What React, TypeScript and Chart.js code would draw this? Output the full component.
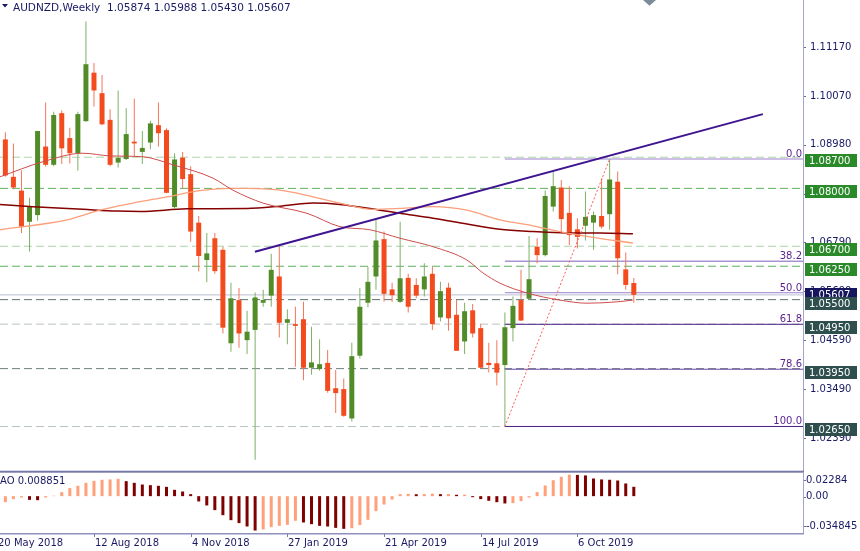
import React, { useEffect, useRef } from "react";
import { Chart, registerables } from "chart.js";
Chart.register(...registerables);

// ---------- DATA ----------
const symbolTitle = "AUDNZD,Weekly";
const lastOHLC = ["1.05874", "1.05988", "1.05430", "1.05607"];

const opens = [
  1.0868, 1.091, 1.0826, 1.0795, 1.0725, 1.074, 1.0894, 1.0853, 1.0969, 1.0913,
  1.0879, 1.0951, 1.106, 1.1014, 1.0954, 1.0858, 1.0866, 1.0905, 1.0882, 1.0903,
  1.0942, 1.0931, 1.0758, 1.0869, 1.0832, 1.0723, 1.0639, 1.0688, 1.0662, 1.0452,
  1.0549, 1.0459, 1.0482, 1.0543, 1.0559, 1.0602, 1.0498, 1.0495, 1.0506, 1.0397,
  1.0394, 1.0408, 1.0351, 1.0349, 1.0283, 1.0424, 1.0543, 1.0602, 1.0686, 1.0573,
  1.0545, 1.0599, 1.0583, 1.0573, 1.0608, 1.051, 1.0577, 1.0516, 1.0456, 1.0526,
  1.0486, 1.0408, 1.0407, 1.0403, 1.0486, 1.0549, 1.0552, 1.0669, 1.065, 1.0759,
  1.0802, 1.0745, 1.0708, 1.0716, 1.0723, 1.0738, 1.0742, 1.0815, 1.0618, 1.05874,
];
const highs = [
  1.0915, 1.0926, 1.0901, 1.0841, 1.0779, 1.0929, 1.0993, 1.0972, 1.0975, 1.0936,
  1.0972, 1.1175, 1.1082, 1.1055, 1.0978, 1.102, 1.098, 1.1002, 1.0929, 1.0952,
  1.0993, 1.0935, 1.0879, 1.0882, 1.085, 1.0738, 1.07, 1.07, 1.0669, 1.0588,
  1.0576, 1.0525, 1.0566, 1.0572, 1.0653, 1.0671, 1.0528, 1.0534, 1.0545, 1.0489,
  1.0461, 1.0437, 1.0392, 1.0373, 1.0453, 1.0576, 1.0624, 1.0729, 1.0703, 1.0588,
  1.0725, 1.0608, 1.0598, 1.0632, 1.0624, 1.059, 1.0588, 1.0549, 1.0543, 1.054,
  1.0495, 1.0453, 1.0459, 1.0521, 1.0557, 1.0617, 1.0693, 1.0688, 1.0795, 1.0838,
  1.0819, 1.0805, 1.0733, 1.0793, 1.0748, 1.0823, 1.0866, 1.0838, 1.0656, 1.05988,
];
const lows = [
  1.086, 1.0826, 1.0798, 1.07, 1.0658, 1.0727, 1.0849, 1.085, 1.0855, 1.0856,
  1.084, 1.095, 1.0984, 1.0942, 1.085, 1.0847, 1.0864, 1.0871, 1.0855, 1.0888,
  1.0894, 1.0789, 1.0755, 1.0799, 1.068, 1.0613, 1.0589, 1.0608, 1.0474, 1.0433,
  1.0442, 1.0428, 1.019, 1.0534, 1.0534, 1.0465, 1.045, 1.0399, 1.0369, 1.0381,
  1.039, 1.0341, 1.0295, 1.0287, 1.0276, 1.0418, 1.0533, 1.0572, 1.0545, 1.0545,
  1.0543, 1.0521, 1.0553, 1.0557, 1.0482, 1.0501, 1.048, 1.0435, 1.0428, 1.0465,
  1.0396, 1.0386, 1.0357, 1.0265, 1.0456, 1.0502, 1.0549, 1.0632, 1.0647, 1.0748,
  1.0699, 1.0673, 1.0665, 1.0683, 1.0662, 1.071, 1.0707, 1.0607, 1.0572, 1.0543,
];
const closes = [
  1.0907, 1.0829, 1.0802, 1.0714, 1.076, 1.0929, 1.0853, 1.0965, 1.089, 1.0879,
  1.0967, 1.1079, 1.102, 1.0944, 1.0853, 1.0869, 1.0922, 1.0901, 1.0891, 1.0946,
  1.0924, 1.079, 1.0865, 1.0821, 1.0703, 1.0648, 1.0654, 1.0614, 1.0487, 1.0553,
  1.0474, 1.0478, 1.0555, 1.0549, 1.0617, 1.0498, 1.0506, 1.0491, 1.0397, 1.0409,
  1.0405, 1.0345, 1.034, 1.0289, 1.0423, 1.0534, 1.059, 1.0683, 1.0563, 1.056,
  1.0598, 1.0534, 1.0559, 1.0602, 1.0495, 1.0569, 1.0508, 1.0435, 1.0524, 1.0474,
  1.0397, 1.0403, 1.0386, 1.0488, 1.0536, 1.0503, 1.0596, 1.065, 1.0783, 1.0805,
  1.0731, 1.0695, 1.0691, 1.0736, 1.074, 1.0714, 1.082, 1.0643, 1.0583, 1.05607,
];

const aoValues = [
  -0.0065, -0.0057, -0.0028, -0.0013, -0.0035, -0.0038, -0.0013, 0.0004, 0.0038, 0.0076,
  0.0098, 0.0126, 0.0145, 0.0155, 0.0158, 0.0164, 0.0142, 0.0126, 0.011, 0.0104,
  0.0098, 0.0088, 0.006, 0.0044, 0.0019, -0.005, -0.0088, -0.0132, -0.018, -0.0227,
  -0.0255, -0.0287, -0.0325, -0.0315, -0.0293, -0.0281, -0.0271, -0.0233, -0.0249, -0.0265,
  -0.0281, -0.0287, -0.03, -0.0309, -0.0303, -0.0274, -0.0224, -0.0142, -0.0079, -0.0032,
  0.0019, 0.0022, 0.0018, 0.002, 0.0024, 0.0019, 0.002, 0.0013, 0.0014, -0.001,
  -0.0028, -0.0044, -0.0057, -0.0069, -0.0066, -0.0047, -0.0013, 0.0038, 0.0101, 0.0151,
  0.0183, 0.0203, 0.0201, 0.0196, 0.0167, 0.0158, 0.0155, 0.0148, 0.012, 0.008851,
];
const aoLabel = "AO 0.008851";

const xTickIndex = [0, 12, 24, 36, 48, 60, 72];
const xTickLabels = ["20 May 2018", "12 Aug 2018", "4 Nov 2018", "27 Jan 2019", "21 Apr 2019", "14 Jul 2019", "6 Oct 2019"];
const priceTicks = [1.1117, 1.1007, 1.0898, 1.0788, 1.0679, 1.0569, 1.0459, 1.0349, 1.0239];
const aoTicks = [0.02284, 0, -0.034845];
const aoTickLabels = ["0.02284", "0.00", "-0.034845"];

const maFastIdx = [0.34, 5.67, 10.64, 13.99, 18.08, 21.8, 26.77, 29.25, 32.97, 38.43, 42.53, 46.25, 49.98, 54.07, 58.29, 60.28, 62.39, 65.74, 69.83, 73.18, 76.9, 78.89];
const maFastVal = [1.0826, 1.086, 1.0879, 1.0873, 1.0871, 1.0853, 1.0823, 1.0796, 1.0767, 1.0744, 1.0714, 1.0707, 1.0688, 1.0669, 1.0639, 1.061, 1.0587, 1.0565, 1.0549, 1.0542, 1.0545, 1.0549];
const maMidIdx = [0.34, 8.65, 12.74, 16.84, 21.06, 25.15, 29.25, 30.99, 35.08, 39.18, 42.53, 46.62, 49.98, 54.07, 58.29, 62.39, 66.48, 69.83, 73.93, 78.89];
const maMidVal = [1.0707, 1.0729, 1.0751, 1.0767, 1.0781, 1.0795, 1.08, 1.08, 1.0796, 1.0781, 1.0767, 1.0753, 1.0755, 1.0759, 1.0751, 1.0729, 1.0716, 1.0703, 1.069, 1.0677];
const maSlowIdx = [0.34, 4.43, 10.64, 14.85, 17.71, 23.54, 30.99, 35.08, 39.18, 42.53, 47.49, 49.98, 54.07, 58.29, 62.39, 66.48, 70.7, 74.8, 78.89];
const maSlowVal = [1.0764, 1.0759, 1.0753, 1.0749, 1.0748, 1.0754, 1.0755, 1.076, 1.0767, 1.0764, 1.0751, 1.0744, 1.0733, 1.072, 1.0708, 1.0703, 1.07, 1.07, 1.0698];

const levelPrices = [1.087, 1.08, 1.067, 1.0625, 1.055, 1.0495, 1.0395, 1.0265];
const levelColors = ["#a9d6a9", "#5fb05f", "#a9d6a9", "#5fb05f", "#5f7272", "#b9c3c3", "#6f8282", "#b9c3c3"];
const currentPrice = 1.05607;

const boxPrices = [1.087, 1.08, 1.067, 1.0625, 1.055, 1.0495, 1.0395, 1.0265];
const boxColors = ["#2a8a2a", "#2a8a2a", "#2a8a2a", "#2a8a2a", "#2f4f4f", "#2f4f4f", "#2f4f4f", "#2f4f4f"];

const fibRatios = [0, 38.2, 50, 61.8, 78.6, 100];
const fibLabels = ["0.0", "38.2", "50.0", "61.8", "78.6", "100.0"];
const fibColors = ["#9a7fcc", "#7d5fb8", "#9a7fcc", "#4c1f86", "#6b4aa6", "#4c1f86"];
const fibHigh = 1.0866;
const fibLow = 1.0265;
const fibFromIdx = 63;
const fibToIdx = 76;

const trendIdx = [31.98, 95.02];
const trendVal = [1.06577, 1.09669];

// ---------- STYLE / LAYOUT ----------
const X_MIN = 0.335;
const X_MAX = 100;
const P_MIN = 1.01627;
const P_MAX = 1.12233;
const AO_MIN = -0.034845;
const AO_MAX = 0.02284;
const FONT = '10px "DejaVu Sans", sans-serif';
const TEXT = "#191964";
const AXIS_LINE = "#a4a4d0";
const BORDER = "#7878aa";

const mainDecor = {
  id: "mainDecor",
  afterDraw(chart: any) {
    const ctx = chart.ctx;
    const ys = chart.scales.y;
    ctx.save();
    ctx.fillStyle = AXIS_LINE;
    ctx.fillRect(803, 0, 1, 473);
    ctx.fillStyle = BORDER;
    ctx.fillRect(0, 470.7, 804, 2);

    ctx.font = FONT;
    ctx.textAlign = "right";
    ctx.textBaseline = "alphabetic";
    ctx.fillStyle = "#5a1f8c";
    fibRatios.forEach((r, i) => {
      const v = fibHigh - (fibHigh - fibLow) * r / 100;
      const y = ys.getPixelForValue(v);
      ctx.fillText(fibLabels[i], 802, y - 2);
    });

    ctx.textAlign = "left";
    ctx.textBaseline = "middle";
    priceTicks.forEach((t) => {
      const y = ys.getPixelForValue(t);
      ctx.fillStyle = "#6a6a9a";
      ctx.fillRect(804, Math.round(y), 2, 1);
      ctx.fillStyle = TEXT;
      ctx.fillText(t.toFixed(5), 810, y);
    });

    // current price box (centred on the price)
    {
      const y = ys.getPixelForValue(currentPrice);
      const top = Math.round(y - 6.5);
      ctx.fillStyle = "#16165e";
      ctx.fillRect(805, top, 52, 13);
      ctx.fillStyle = "#ffffff";
      ctx.fillText(currentPrice.toFixed(5), 809, top + 7);
    }

    boxPrices.forEach((p, i) => {
      const y = ys.getPixelForValue(p);
      const top = Math.round(y - 3);
      ctx.fillStyle = boxColors[i];
      ctx.fillRect(805, top, 52, 13);
      ctx.fillStyle = "#ffffff";
      ctx.fillText(p.toFixed(5), 809, top + 7);
    });

    ctx.fillStyle = TEXT;
    ctx.beginPath();
    ctx.moveTo(2, 4);
    ctx.lineTo(8, 4);
    ctx.lineTo(5, 7.5);
    ctx.closePath();
    ctx.fill();
    ctx.font = '10.5px "DejaVu Sans", sans-serif';
    ctx.fillText(symbolTitle + "  " + lastOHLC.join(" "), 13, 8.5);

    ctx.fillStyle = "#7d8c9b";
    ctx.beginPath();
    ctx.moveTo(643, 0);
    ctx.lineTo(656, 0);
    ctx.lineTo(649.5, 5.7);
    ctx.closePath();
    ctx.fill();
    ctx.restore();
  },
};

const aoDecor = {
  id: "aoDecor",
  afterDraw(chart: any) {
    const ctx = chart.ctx;
    const ys = chart.scales.y;
    const xs = chart.scales.x;
    ctx.save();
    ctx.fillStyle = AXIS_LINE;
    ctx.fillRect(803, 0, 1, 62);
    ctx.fillStyle = "#9090c0";
    ctx.fillRect(0, 61, 804, 1.5);

    ctx.font = FONT;
    ctx.textBaseline = "middle";
    ctx.textAlign = "left";
    ctx.fillStyle = TEXT;
    ctx.fillText(aoLabel, 0, 9);

    const offs = [8, 0.5, -7];
    aoTicks.forEach((t, i) => {
      const y = ys.getPixelForValue(t);
      ctx.fillStyle = "#6a6a9a";
      ctx.fillRect(804, Math.round(y + offs[i]), 2, 1);
      ctx.fillStyle = TEXT;
      ctx.fillText(aoTickLabels[i], 806, y + offs[i]);
    });

    xTickIndex.forEach((idx, i) => {
      const x = Math.round(xs.getPixelForValue(idx));
      ctx.fillStyle = BORDER;
      ctx.fillRect(x, 62, 1, 3);
      ctx.fillStyle = TEXT;
      ctx.fillText(xTickLabels[i], x + 1, 71);
    });
    ctx.restore();
  },
};

const hline = (y: number, color: string, dash: number[], order: number, from = X_MIN, to = X_MAX, width = 1) => ({
  type: "line" as const,
  data: [{ x: from, y }, { x: to, y }],
  borderColor: color,
  borderWidth: width,
  borderDash: dash,
  pointRadius: 0,
  order,
});

export default function App() {
  const mainRef = useRef<HTMLCanvasElement>(null);
  const aoRef = useRef<HTMLCanvasElement>(null);

  useEffect(() => {
    document.body.style.margin = "0";
    const bodyColors = opens.map((o, i) => (closes[i] >= o ? "#528c28" : "#f44b1e"));
    const wickColors = opens.map((o, i) => (closes[i] >= o ? "#7fb066" : "#f2765a"));

    const datasets: any[] = [
      {
        type: "line",
        data: trendIdx.map((x, i) => ({ x, y: trendVal[i] })),
        borderColor: "#3f1490",
        borderWidth: 2,
        pointRadius: 0,
        order: 0,
      },
      {
        type: "line",
        data: [{ x: fibFromIdx, y: fibLow }, { x: fibToIdx, y: fibHigh }],
        borderColor: "#ff5a5a",
        borderWidth: 1,
        borderDash: [2, 2],
        pointRadius: 0,
        order: 1,
      },
      {
        type: "line",
        data: maFastIdx.map((x, i) => ({ x, y: maFastVal[i] })),
        borderColor: "#cf4c4c",
        borderWidth: 1,
        pointRadius: 0,
        cubicInterpolationMode: "monotone",
        order: 2,
      },
      {
        type: "line",
        data: maMidIdx.map((x, i) => ({ x, y: maMidVal[i] })),
        borderColor: "#fa9f7a",
        borderWidth: 1.3,
        pointRadius: 0,
        cubicInterpolationMode: "monotone",
        order: 2,
      },
      {
        type: "line",
        data: maSlowIdx.map((x, i) => ({ x, y: maSlowVal[i] })),
        borderColor: "#860000",
        borderWidth: 1.5,
        pointRadius: 0,
        cubicInterpolationMode: "monotone",
        order: 2,
      },
      {
        type: "bar",
        data: opens.map((o, i) => ({ x: i, y: [o, closes[i]] })),
        backgroundColor: bodyColors,
        borderWidth: 0,
        grouped: false,
        maxBarThickness: 5,
        minBarLength: 1,
        order: 4,
      },
      {
        type: "bar",
        data: lows.map((l, i) => ({ x: i, y: [l, highs[i]] })),
        backgroundColor: wickColors,
        borderWidth: 0,
        grouped: false,
        maxBarThickness: 1,
        order: 5,
      },
      ...fibRatios.map((r, i) =>
        hline(fibHigh - (fibHigh - fibLow) * r / 100, fibColors[i], [], 6, fibFromIdx, X_MAX)
      ),
      hline(currentPrice, "#b8c0d0", [], 7),
      ...levelPrices.map((p, i) => hline(p, levelColors[i], [8, 4], 8)),
    ];

    const main = new Chart(mainRef.current as HTMLCanvasElement, {
      type: "bar",
      data: { datasets },
      options: {
        animation: false,
        responsive: false,
        events: [],
        layout: { padding: { left: 0, right: 57, top: 0, bottom: 1 } },
        plugins: { legend: { display: false }, tooltip: { enabled: false } },
        scales: {
          x: { type: "linear", min: X_MIN, max: X_MAX, offset: false, display: false },
          y: { type: "linear", min: P_MIN, max: P_MAX, display: false },
        },
      } as any,
      plugins: [mainDecor],
    });

    const aoColors = aoValues.map((v, i) => (i === 0 || v > aoValues[i - 1] ? "#ffa07a" : "#7f0000"));
    const ao = new Chart(aoRef.current as HTMLCanvasElement, {
      type: "bar",
      data: {
        datasets: [
          {
            data: aoValues.map((v, i) => ({ x: i, y: v })),
            backgroundColor: aoColors,
            borderWidth: 0,
            grouped: false,
            maxBarThickness: 3,
          } as any,
        ],
      },
      options: {
        animation: false,
        responsive: false,
        events: [],
        layout: { padding: { left: 0, right: 57, top: 0, bottom: 18 } },
        plugins: { legend: { display: false }, tooltip: { enabled: false } },
        scales: {
          x: { type: "linear", min: X_MIN, max: X_MAX, offset: false, display: false },
          y: { type: "linear", min: AO_MIN, max: AO_MAX, display: false },
        },
      } as any,
      plugins: [aoDecor],
    });

    return () => {
      main.destroy();
      ao.destroy();
    };
  }, []);

  return (
    <div style={{ position: "absolute", left: 0, top: 0, width: 860, height: 551, background: "#ffffff", overflow: "hidden" }}>
      <canvas ref={mainRef} width={860} height={473} style={{ position: "absolute", left: 0, top: 0, width: 860, height: 473 }} />
      <canvas ref={aoRef} width={860} height={79} style={{ position: "absolute", left: 0, top: 472, width: 860, height: 79 }} />
    </div>
  );
}
